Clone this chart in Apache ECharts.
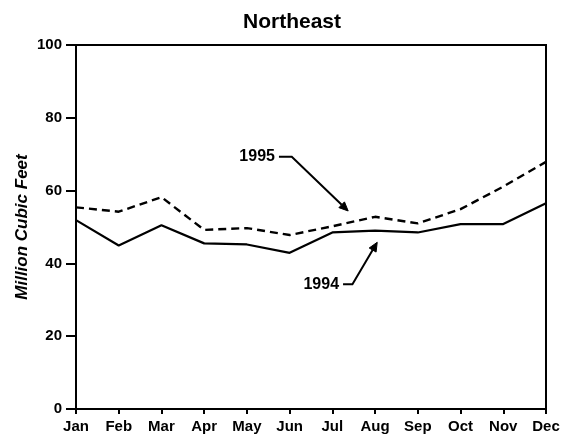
<!DOCTYPE html>
<html><head><meta charset="utf-8">
<script src="https://cdn.jsdelivr.net/npm/echarts@6/dist/echarts.min.js"></script>
<style>html,body{margin:0;padding:0;background:#fff}#c{width:570px;height:442px}</style>
</head><body><div id="c"></div>
<script>
const months = ['Jan','Feb','Mar','Apr','May','Jun','Jul','Aug','Sep','Oct','Nov','Dec'];
const y1994 = [51.9, 44.9, 50.5, 45.5, 45.2, 42.9, 48.5, 49.0, 48.5, 50.8, 50.8, 56.5];
const y1995 = [55.4, 54.2, 58.2, 49.2, 49.7, 47.8, 50.2, 52.8, 51.0, 54.9, 61.1, 67.9];
const yTicks = [0, 20, 40, 60, 80, 100];
// annotation anchors in data space (month index, value): [line start, elbow, arrow tip]
const note1995 = {label: '1995', pts: [[4.75, 69.3], [5.05, 69.3], [6.37, 54.4]]};
const note1994 = {label: '1994', pts: [[6.25, 34.3], [6.47, 34.3], [7.05, 45.8]]};

const FONT = '"Liberation Sans", Arial, Helvetica, sans-serif';
const chart = echarts.init(document.getElementById('c'), null, {renderer: 'canvas'});
chart.setOption({
  animation: false,
  backgroundColor: '#fff',
  title: {text: 'Northeast', left: 238, top: 7,
    textStyle: {fontFamily: FONT, fontSize: 21, fontWeight: 'bold', color: '#000'}},
  grid: {left: 76, right: 24, top: 45, bottom: 33, show: true, borderColor: '#000', borderWidth: 2},
  xAxis: {
    type: 'category', data: months, boundaryGap: false,
    axisLine: {lineStyle: {color: '#000', width: 2}},
    axisTick: {show: true, length: 5, lineStyle: {color: '#000', width: 2}},
    axisLabel: {color: '#000', fontFamily: FONT, fontSize: 15, fontWeight: 'bold', margin: 10,
      interval: 0, showMinLabel: true, showMaxLabel: true},
    splitLine: {show: false}
  },
  yAxis: {
    type: 'value', min: 0, max: 100, interval: 20,
    name: 'Million Cubic Feet', nameLocation: 'middle', nameGap: 45, nameRotate: 90,
    nameMoveOverlap: false,
    nameTextStyle: {fontFamily: FONT, fontSize: 17, fontWeight: 'bold', fontStyle: 'italic', color: '#000'},
    axisLine: {show: true, lineStyle: {color: '#000', width: 2}},
    axisTick: {show: true, length: 10, lineStyle: {color: '#000', width: 2}},
    axisLabel: {color: '#000', fontFamily: FONT, fontSize: 15, fontWeight: 'bold', margin: 14,
      formatter: v => yTicks.includes(v) ? String(v) : ''},
    splitLine: {show: false}
  },
  series: [
    {name: '1994', type: 'line', data: y1994, symbol: 'none',
      lineStyle: {color: '#000', width: 2.2, type: 'solid'}},
    {name: '1995', type: 'line', data: y1995, symbol: 'none',
      lineStyle: {color: '#000', width: 2.4, type: [8, 5]}}
  ]
});

function toPx(d) {
  const a = chart.convertToPixel({gridIndex: 0}, [0, d[1]]);
  const b = chart.convertToPixel({gridIndex: 0}, [months.length - 1, d[1]]);
  return [a[0] + (b[0] - a[0]) * d[0] / (months.length - 1), a[1]];
}
function noteGraphics(note) {
  const p = note.pts.map(toPx);
  const tip = p[2], prev = p[1];
  const ang = Math.atan2(tip[1] - prev[1], tip[0] - prev[0]);
  const L = 9, W = 4;
  const bx = tip[0] - L * Math.cos(ang), by = tip[1] - L * Math.sin(ang);
  const nx = -Math.sin(ang) * W, ny = Math.cos(ang) * W;
  return [
    {type: 'text', x: p[0][0] - 4, y: p[0][1], style: {text: note.label, fill: '#000',
      font: 'bold 16px ' + FONT, align: 'right', verticalAlign: 'middle'}},
    {type: 'polyline', shape: {points: [p[0], p[1], [bx, by]]},
      style: {stroke: '#000', lineWidth: 2, fill: null}},
    {type: 'polygon', shape: {points: [tip, [bx + nx, by + ny], [bx - nx, by - ny]]},
      style: {fill: '#000', stroke: '#000', lineWidth: 1}}
  ];
}
chart.setOption({graphic: {elements: [...noteGraphics(note1995), ...noteGraphics(note1994)]}});
</script></body></html>
